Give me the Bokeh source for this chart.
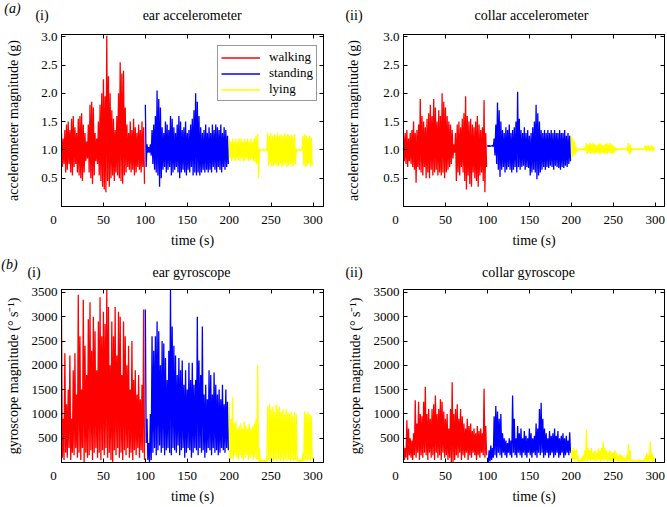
from bokeh.plotting import figure
from bokeh.layouts import column, row
from bokeh.models import (Range1d, FixedTicker, NumeralTickFormatter,
                          Legend, LegendItem, LinearAxis)
from bokeh.core.properties import value
from bokeh.embed import file_html
from bokeh.resources import INLINE

FONT = "Liberation Serif"
ACTIVITIES = ["walking", "standing", "lying"]
COLORS = ["#ff0000", "#0000ff", "#ffff00"]
SEGMENT_START = [0, 100, 200]   # s
STEP = 2                        # s between envelope samples
X_TICKS = [0, 50, 100, 150, 200, 250, 300]
ACC_TICKS = [0.5, 1.0, 1.5, 2.0, 2.5, 3.0]
GYRO_TICKS = [500, 1000, 1500, 2000, 2500, 3000, 3500]

# ---------------- ear accelerometer (g): upper / lower envelope every 2 s
EAR_ACC_WALK_HI = [1.30, 1.20, 1.35, 1.45, 1.50, 1.35, 1.55, 1.60, 1.40, 1.30,
                   1.55, 1.60, 1.65, 1.45, 1.30, 1.15, 1.45, 1.80, 1.85, 1.75,
                   1.30, 1.20, 1.50, 1.80, 2.00, 2.25, 1.95, 3.02, 2.30, 2.00,
                   1.70, 1.55, 1.35, 1.60, 2.00, 2.55, 2.35, 2.40, 1.75, 1.45,
                   1.30, 1.50, 1.35, 1.55, 1.40, 1.30, 1.45, 1.35, 1.50, 1.40]
EAR_ACC_WALK_LO = [0.70, 0.75, 0.60, 0.65, 0.75, 0.60, 0.55, 0.70, 0.75, 0.60,
                   0.55, 0.50, 0.45, 0.60, 0.80, 0.85, 0.60, 0.50, 0.40, 0.55,
                   0.80, 0.75, 0.55, 0.45, 0.35, 0.30, 0.25, 0.45, 0.35, 0.50,
                   0.55, 0.45, 0.60, 0.55, 0.50, 0.45, 0.40, 0.55, 0.60, 0.70,
                   0.65, 0.60, 0.65, 0.55, 0.60, 0.70, 0.65, 0.60, 0.70, 0.40]
EAR_ACC_STAND_HI = [1.80, 1.10, 1.05, 1.10, 1.35, 1.45, 1.60, 2.05, 1.90, 1.75,
                    1.40, 1.30, 1.50, 1.45, 1.35, 1.60, 1.55, 1.40, 1.30, 1.45,
                    1.60, 1.50, 1.35, 1.40, 1.50, 1.30, 1.35, 1.45, 1.55, 1.70,
                    2.00, 1.85, 1.60, 1.40, 1.30, 1.35, 1.45, 1.30, 1.40, 1.30,
                    1.45, 1.35, 1.45, 1.40, 1.35, 1.45, 1.30, 1.40, 1.35, 1.25]
EAR_ACC_STAND_LO = [0.70, 0.95, 0.95, 0.90, 0.75, 0.65, 0.60, 0.55, 0.35, 0.50,
                    0.65, 0.70, 0.60, 0.65, 0.70, 0.55, 0.60, 0.65, 0.70, 0.60,
                    0.50, 0.60, 0.65, 0.60, 0.55, 0.65, 0.60, 0.70, 0.55, 0.60,
                    0.55, 0.60, 0.55, 0.60, 0.65, 0.60, 0.65, 0.60, 0.65, 0.60,
                    0.70, 0.65, 0.60, 0.70, 0.65, 0.60, 0.70, 0.65, 0.70, 0.75]
EAR_ACC_LIE_HI = [1.20, 1.15, 1.20, 1.15, 1.20, 1.15, 1.20, 1.20, 1.15, 1.20,
                  1.15, 1.20, 1.15, 1.20, 1.15, 1.20, 1.25, 1.28, 1.02, 1.00,
                  1.02, 1.00, 1.02, 1.30, 1.25, 1.30, 1.25, 1.28, 1.25, 1.30,
                  1.25, 1.28, 1.25, 1.30, 1.25, 1.28, 1.25, 1.27, 1.25, 1.28,
                  1.02, 1.00, 1.02, 1.00, 1.25, 1.28, 1.25, 1.22, 1.25, 1.22]
EAR_ACC_LIE_LO = [0.85, 0.80, 0.85, 0.80, 0.85, 0.82, 0.80, 0.85, 0.80, 0.82,
                  0.85, 0.80, 0.82, 0.85, 0.80, 0.78, 0.75, 0.50, 0.98, 1.00,
                  0.98, 1.00, 0.98, 0.72, 0.75, 0.70, 0.72, 0.75, 0.70, 0.72,
                  0.75, 0.70, 0.72, 0.75, 0.70, 0.72, 0.75, 0.70, 0.72, 0.75,
                  0.98, 1.00, 0.98, 1.00, 0.72, 0.70, 0.72, 0.75, 0.70, 0.72]

# ---------------- collar accelerometer (g)
COL_ACC_WALK_HI = [1.25, 1.30, 1.35, 1.20, 1.30, 1.35, 1.50, 1.30, 1.35, 1.45,
                   1.90, 1.60, 1.50, 1.40, 1.55, 1.65, 1.80, 1.60, 1.90, 1.75,
                   1.50, 1.70, 1.60, 2.00, 1.85, 1.75, 1.60, 1.50, 1.45, 1.35,
                   1.10, 1.30, 1.45, 1.50, 1.40, 1.55, 1.65, 1.95, 1.60, 1.50,
                   1.55, 1.45, 1.40, 1.50, 1.60, 1.45, 1.35, 1.40, 1.88, 1.30]
COL_ACC_WALK_LO = [0.80, 0.75, 0.70, 0.80, 0.75, 0.70, 0.65, 0.42, 0.70, 0.65,
                   0.60, 0.55, 0.70, 0.50, 0.60, 0.50, 0.65, 0.55, 0.60, 0.65,
                   0.55, 0.60, 0.55, 0.60, 0.50, 0.60, 0.65, 0.70, 0.75, 0.85,
                   0.95, 0.45, 0.60, 0.55, 0.70, 0.60, 0.45, 0.30, 0.55, 0.40,
                   0.35, 0.60, 0.50, 0.45, 0.35, 0.55, 0.60, 0.45, 0.25, 0.70]
COL_ACC_STAND_HI = [1.08, 1.08, 1.07, 1.08, 1.20, 1.45, 1.84, 1.70, 1.50, 1.35,
                    1.30, 1.40, 1.35, 1.45, 1.30, 1.35, 1.40, 1.50, 2.03, 1.55,
                    1.35, 1.30, 1.40, 1.30, 1.35, 1.25, 1.30, 1.40, 1.50, 1.80,
                    1.65, 1.50, 1.35, 1.30, 1.35, 1.30, 1.35, 1.30, 1.35, 1.30,
                    1.35, 1.30, 1.30, 1.35, 1.30, 1.30, 1.35, 1.25, 1.30, 1.25]
COL_ACC_STAND_LO = [1.06, 1.06, 1.07, 1.06, 0.90, 0.75, 0.65, 0.52, 0.65, 0.70,
                    0.60, 0.65, 0.70, 0.65, 0.60, 0.65, 0.70, 0.60, 0.70, 0.65,
                    0.70, 0.72, 0.65, 0.70, 0.68, 0.55, 0.60, 0.65, 0.60, 0.48,
                    0.55, 0.60, 0.65, 0.70, 0.65, 0.70, 0.68, 0.72, 0.70, 0.65,
                    0.72, 0.70, 0.68, 0.65, 0.70, 0.68, 0.72, 0.70, 0.75, 0.80]
COL_ACC_LIE_HI = [1.25, 1.20, 1.15, 1.05, 1.02, 1.03, 1.02, 1.03, 1.05, 1.12,
                  1.10, 1.12, 1.10, 1.12, 1.10, 1.08, 1.10, 1.12, 1.10, 1.08,
                  1.10, 1.12, 1.10, 1.12, 1.10, 1.08, 1.05, 1.03, 1.02, 1.03,
                  1.02, 1.03, 1.02, 1.05, 1.12, 1.10, 1.03, 1.02, 1.03, 1.02,
                  1.03, 1.02, 1.03, 1.02, 1.08, 1.07, 1.08, 1.06, 1.08, 1.06]
COL_ACC_LIE_LO = [0.87, 0.90, 0.92, 0.98, 1.00, 1.00, 1.01, 1.00, 0.98, 0.93,
                  0.94, 0.93, 0.95, 0.93, 0.94, 0.95, 0.93, 0.94, 0.95, 0.93,
                  0.94, 0.93, 0.95, 0.94, 0.93, 0.95, 0.98, 1.00, 1.01, 1.00,
                  1.01, 1.00, 1.01, 0.98, 0.92, 0.94, 1.00, 1.01, 1.00, 1.01,
                  1.00, 1.01, 1.00, 1.01, 0.98, 0.99, 0.98, 0.99, 0.98, 0.99]

# ---------------- ear gyroscope (deg/s)
EAR_GYR_WALK_HI = [3000, 900, 2250, 1200, 1500, 2200, 900, 1900, 2250, 1400,
                   3450, 2600, 1500, 3350, 2400, 1800, 2950, 3300, 2300, 3000,
                   2700, 1900, 2900, 3400, 2600, 3100, 2850, 3550, 3200, 2000,
                   2900, 2600, 3200, 2200, 3100, 3000, 1800, 2900, 2600, 2000,
                   2400, 1500, 2500, 1700, 1900, 1400, 1800, 1300, 1600, 3150]
EAR_GYR_WALK_LO = [100, 50, 200, 100, 300, 50, 200, 150, 300, 100,
                   200, 50, 300, 0, 200, 100, 150, 250, 50, 200,
                   300, 100, 200, 50, 250, 150, 300, 100, 200, 50,
                   0, 250, 150, 300, 100, 200, 50, 250, 150, 300,
                   100, 200, 50, 250, 150, 300, 100, 250, 200, 50]
EAR_GYR_STAND_HI = [3150, 900, 400, 1000, 2600, 2300, 2600, 2900, 2700, 2000,
                    2500, 2450, 2150, 1700, 2300, 3550, 2800, 2400, 2200, 1800,
                    2150, 1900, 2100, 1600, 1900, 1500, 2050, 1700, 2050, 1600,
                    1700, 3000, 2100, 1800, 2800, 1400, 1600, 1300, 1900, 1800,
                    1400, 1850, 1600, 1400, 1500, 1300, 1600, 1200, 1500, 1250]
EAR_GYR_STAND_LO = [400, 50, 0, 50, 200, 300, 150, 250, 350, 200,
                    300, 150, 250, 300, 200, 150, 300, 250, 200, 350,
                    150, 250, 300, 100, 200, 300, 250, 100, 200, 300,
                    250, 150, 300, 200, 250, 100, 200, 300, 250, 150,
                    300, 200, 250, 150, 200, 300, 250, 200, 300, 250]
EAR_GYR_LIE_HI = [1250, 900, 1350, 800, 850, 700, 750, 800, 700, 850,
                  750, 700, 800, 700, 750, 800, 900, 2000, 300, 60,
                  50, 60, 80, 1150, 1200, 1100, 1150, 1050, 1200, 1100,
                  1150, 1050, 1100, 1000, 1100, 1050, 1000, 1050, 950, 1050,
                  1000, 100, 50, 80, 200, 1050, 1000, 1050, 1000, 950]
EAR_GYR_LIE_LO = [50, 100, 50, 150, 100, 50, 150, 100, 50, 100,
                  150, 50, 100, 150, 50, 100, 50, 0, 0, 10,
                  0, 10, 0, 50, 20, 60, 30, 50, 20, 60,
                  30, 50, 20, 60, 30, 50, 20, 60, 30, 50,
                  20, 0, 10, 0, 20, 50, 30, 50, 20, 40]

# ---------------- collar gyroscope (deg/s)
COL_GYR_WALK_HI = [350, 300, 870, 700, 500, 450, 600, 1280, 800, 1250,
                   1000, 950, 1250, 1560, 1000, 1100, 900, 1100, 1200, 1380,
                   1000, 1100, 1300, 1250, 1050, 900, 1000, 700, 1100, 1650,
                   1000, 1100, 1200, 900, 1100, 950, 800, 700, 900, 750,
                   800, 650, 700, 600, 750, 650, 700, 600, 1520, 750]
COL_GYR_WALK_LO = [50, 100, 50, 150, 100, 50, 150, 100, 200, 50,
                   150, 100, 200, 150, 50, 200, 100, 150, 50, 200,
                   100, 150, 50, 200, 100, 150, 50, 100, 0, 0,
                   50, 150, 100, 200, 50, 150, 100, 200, 50, 150,
                   100, 200, 150, 50, 150, 100, 200, 150, 100, 150]
COL_GYR_STAND_HI = [100, 250, 350, 300, 950, 1160, 1050, 900, 1000, 600,
                    500, 450, 400, 500, 450, 1380, 900, 500, 750, 600,
                    700, 500, 650, 550, 500, 700, 600, 500, 550, 800,
                    700, 1100, 1230, 900, 700, 600, 500, 650, 550, 600,
                    700, 550, 650, 500, 550, 600, 500, 550, 450, 620]
COL_GYR_STAND_LO = [0, 20, 50, 100, 150, 100, 200, 150, 100, 200,
                    150, 100, 200, 150, 100, 200, 150, 100, 200, 150,
                    100, 200, 150, 100, 200, 150, 100, 200, 150, 100,
                    200, 150, 200, 100, 150, 200, 100, 150, 200, 100,
                    150, 200, 100, 150, 200, 100, 150, 200, 150, 200]
COL_GYR_LIE_HI = [250, 300, 250, 280, 150, 50, 100, 150, 250, 680,
                  300, 250, 300, 200, 250, 200, 280, 250, 300, 430,
                  300, 250, 200, 250, 220, 200, 250, 200, 150, 180,
                  150, 120, 100, 150, 380, 250, 60, 40, 50, 40,
                  60, 50, 40, 60, 120, 200, 150, 430, 200, 120]
COL_GYR_LIE_LO = [50, 20, 60, 30, 10, 0, 10, 20, 30, 20,
                  40, 30, 50, 20, 40, 30, 50, 20, 40, 30,
                  50, 20, 40, 30, 20, 40, 30, 20, 10, 20,
                  10, 20, 10, 20, 30, 10, 0, 10, 0, 10,
                  0, 10, 0, 10, 20, 10, 20, 30, 10, 20]

# ---------------- headings (drawn in thin strips above each row of panels)
ROW1_LETTER = "(a)"
ROW1_TEXTS = ["(i)", "ear accelerometer", "(ii)", "collar accelerometer"]
ROW2_LETTER = "(b)"
ROW2_TEXTS = ["(i)", "ear gyroscope", "(ii)", "collar gyroscope"]
ACC_LABEL = "accelerometer magnitude (g)"
GYRO_LABEL = "gyroscope magnitude (\u00b0 s\u207b\u00b9)"
X_LABEL = "time (s)"


def zigzag(t0, hi, lo):
    """Alternate between the upper and lower envelope value of each bin."""
    xs, ys = [], []
    for i, (h, l) in enumerate(zip(hi, lo)):
        xs += [t0 + STEP * i, t0 + STEP * i + STEP / 2]
        ys += [h, l]
    return xs, ys


def style_axis(ax, size="13px"):
    ax.major_label_text_font = FONT
    ax.major_label_text_font_size = size
    ax.major_label_text_color = "black"
    ax.axis_label_text_font = FONT
    ax.axis_label_text_font_size = "14px"
    ax.axis_label_text_font_style = "normal"
    ax.axis_label_text_color = "black"
    ax.axis_line_color = "black"
    ax.major_tick_line_color = "black"
    ax.major_tick_in = 4
    ax.major_tick_out = 0
    ax.minor_tick_line_color = None


def make_panel(width, height, left, right, top, bottom, x_end, y_end, yticks,
               yfmt, ylabel, ystandoff):
    p = figure(width=width, height=height,
               x_range=Range1d(0, x_end), y_range=Range1d(0, y_end),
               output_backend="svg", toolbar_location=None,
               min_border_left=left, min_border_right=right,
               min_border_top=top, min_border_bottom=bottom)
    p.grid.visible = False
    p.outline_line_color = "black"
    p.outline_line_width = 1
    p.background_fill_color = "white"
    p.border_fill_color = "white"
    xa = p.xaxis[0]
    ya = p.yaxis[0]
    for ax in (xa, ya):
        style_axis(ax)
    xa.ticker = FixedTicker(ticks=X_TICKS)
    xa.axis_label = X_LABEL
    xa.major_label_standoff = 5
    xa.axis_label_standoff = 3
    # the "0" label sits a little left of the corner in the original
    xa.major_label_overrides = {0: "0" + "\u00a0" * 5}
    ya.ticker = FixedTicker(ticks=yticks)
    ya.formatter = NumeralTickFormatter(format=yfmt)
    ya.axis_label = ylabel
    ya.major_label_standoff = 4
    ya.axis_label_standoff = ystandoff
    # inward ticks on the top and right edges of the box
    top_ax = LinearAxis(ticker=FixedTicker(ticks=X_TICKS),
                        major_label_overrides={t: "" for t in X_TICKS})
    right_ax = LinearAxis(ticker=FixedTicker(ticks=yticks),
                          major_label_overrides={t: "" for t in yticks})
    for ax in (top_ax, right_ax):
        style_axis(ax, "0px")
        ax.major_label_standoff = 0
    p.add_layout(top_ax, "above")
    p.add_layout(right_ax, "right")
    return p


def add_series(p, segments):
    renderers = []
    for t0, (hi, lo), color in zip(SEGMENT_START, segments, COLORS):
        xs, ys = zigzag(t0, hi, lo)
        renderers.append(p.line(xs, ys, line_color=color, line_width=1.3))
    return renderers


def heading_strip(width, height, letter, letter_xy, texts, text_x, text_y):
    """A strip whose data units are pixels, holding the panel headings."""
    s = figure(width=width, height=height, x_range=Range1d(0, width),
               y_range=Range1d(height, 0), output_backend="svg",
               toolbar_location=None, x_axis_location=None,
               y_axis_location=None, min_border=0)
    s.grid.visible = False
    s.outline_line_color = None
    s.background_fill_color = "white"
    s.border_fill_color = "white"
    s.text(x=[letter_xy[0]], y=[letter_xy[1]], text=[letter],
           text_font=value(FONT), text_font_size="14px",
           text_font_style="italic", text_align="center",
           text_baseline="middle", text_color="black")
    s.text(x=text_x, y=[text_y] * len(texts), text=texts,
           text_font=value(FONT), text_font_size="14px",
           text_align="center", text_baseline="middle", text_color="black")
    return s


# page is 666 px wide: left column 335, right column 331
W1, W2 = 335, 331
strip1 = heading_strip(W1 + W2, 27, ROW1_LETTER, (12, 8), ROW1_TEXTS,
                       [41.5, 191.7, 353.5, 531], 15)
strip2 = heading_strip(W1 + W2, 30, ROW2_LETTER, (9, 14), ROW2_TEXTS,
                       [33.5, 191, 353.5, 528], 22)

p1 = make_panel(W1, 223, 61, 12, 7, 38, 312.5, 3.04, ACC_TICKS, "0.0", ACC_LABEL, 17)
p2 = make_panel(W2, 223, 68, 2, 7, 38, 311, 3.04, ACC_TICKS, "0.0", ACC_LABEL, 19)
p3 = make_panel(W1, 226, 61, 12, 9, 40, 312.5, 3560, GYRO_TICKS, "0", GYRO_LABEL, 8)
p4 = make_panel(W2, 226, 68, 2, 9, 40, 311, 3560, GYRO_TICKS, "0", GYRO_LABEL, 8)

r1 = add_series(p1, [(EAR_ACC_WALK_HI, EAR_ACC_WALK_LO),
                     (EAR_ACC_STAND_HI, EAR_ACC_STAND_LO),
                     (EAR_ACC_LIE_HI, EAR_ACC_LIE_LO)])
add_series(p2, [(COL_ACC_WALK_HI, COL_ACC_WALK_LO),
                (COL_ACC_STAND_HI, COL_ACC_STAND_LO),
                (COL_ACC_LIE_HI, COL_ACC_LIE_LO)])
add_series(p3, [(EAR_GYR_WALK_HI, EAR_GYR_WALK_LO),
                (EAR_GYR_STAND_HI, EAR_GYR_STAND_LO),
                (EAR_GYR_LIE_HI, EAR_GYR_LIE_LO)])
add_series(p4, [(COL_GYR_WALK_HI, COL_GYR_WALK_LO),
                (COL_GYR_STAND_HI, COL_GYR_STAND_LO),
                (COL_GYR_LIE_HI, COL_GYR_LIE_LO)])

legend = Legend(items=[LegendItem(label=a, renderers=[r]) for a, r in zip(ACTIVITIES, r1)],
                location=(156, 105), orientation="vertical")
legend.label_text_font = FONT
legend.label_text_font_size = "13px"
legend.label_text_color = "black"
legend.label_height = 13
legend.glyph_height = 13
legend.glyph_width = 39
legend.label_standoff = 9
legend.spacing = 0
legend.padding = 3
legend.margin = 0
legend.border_line_color = "#333333"
legend.border_line_width = 1.5
legend.background_fill_color = "white"
legend.background_fill_alpha = 1
p1.add_layout(legend, "center")

layout = column(strip1, row(p1, p2), strip2, row(p3, p4))
open("out.html", "w").write(file_html(layout, INLINE))
